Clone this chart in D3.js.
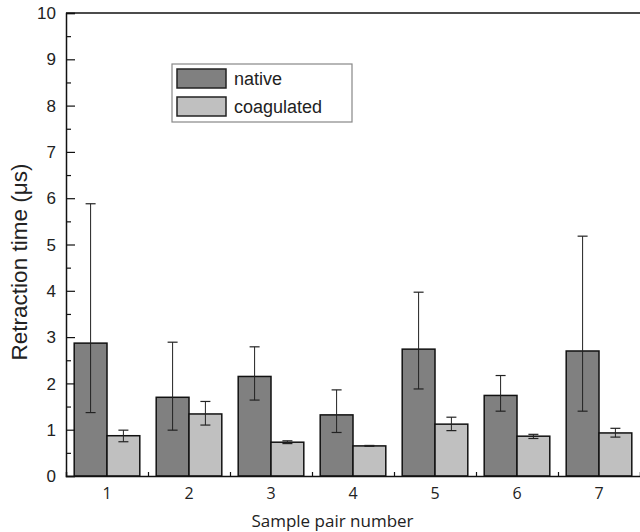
<!DOCTYPE html>
<html>
<head>
<meta charset="utf-8">
<script src="https://cdn.jsdelivr.net/npm/d3@7"></script>
<style>
  body { margin: 0; background: #fff; }
  svg { display: block; }
</style>
</head>
<body>
<div id="chart"></div>
<script>
// data
var pairs = [1, 2, 3, 4, 5, 6, 7];
var nativeMean = [2.87, 1.70, 2.15, 1.32, 2.74, 1.74, 2.70];
var nativeHi   = [5.88, 2.89, 2.79, 1.86, 3.97, 2.17, 5.18];
var nativeLo   = [1.37, 0.99, 1.64, 0.94, 1.88, 1.40, 1.40];
var coagMean   = [0.87, 1.34, 0.73, 0.65, 1.12, 0.86, 0.93];
var coagHi     = [0.99, 1.61, 0.76, 0.66, 1.27, 0.90, 1.03];
var coagLo     = [0.74, 1.10, 0.70, 0.64, 0.98, 0.81, 0.84];
var yTicks = [0, 1, 2, 3, 4, 5, 6, 7, 8, 9, 10];

var W = 640, H = 532;
var margin = { top: 13, right: 0, bottom: 56, left: 66 },
    width = W - margin.left - margin.right,
    height = H - margin.top - margin.bottom;

var svg = d3.select("#chart")
    .append("svg")
    .attr("width", W)
    .attr("height", H)
    .append("g")
    .attr("transform", "translate(" + margin.left + "," + margin.top + ")");

var x = d3.scaleLinear().domain([0.5, 7.5]).range([0, width]);
var y = d3.scaleLinear().domain([0, 10]).range([height, 0]);
var bw = 0.4; // bar width in category units

var series = [
    { name: "native", fill: "#808080", mean: nativeMean, hi: nativeHi, lo: nativeLo, off: -bw },
    { name: "coagulated", fill: "#c0c0c0", mean: coagMean, hi: coagHi, lo: coagLo, off: 0 }
];

// bars
series.forEach(function (s) {
    svg.append("g")
        .selectAll("rect")
        .data(pairs)
        .enter()
        .append("rect")
        .attr("x", (d, i) => x(d + s.off))
        .attr("y", (d, i) => y(s.mean[i]))
        .attr("width", x(1 + bw) - x(1))
        .attr("height", (d, i) => y(0) - y(s.mean[i]))
        .style("fill", s.fill)
        .style("stroke", "#111")
        .style("stroke-width", 1.5);

    // error bars
    var eb = svg.append("g").selectAll("g")
        .data(pairs)
        .enter()
        .append("g")
        .attr("transform", (d) => "translate(" + x(d + s.off + bw / 2) + ",0)");
    eb.append("line")
        .attr("y1", (d, i) => y(s.hi[i]))
        .attr("y2", (d, i) => y(s.lo[i]))
        .style("stroke", "#222").style("stroke-width", 1);
    eb.append("line")
        .attr("x1", -5).attr("x2", 5)
        .attr("y1", (d, i) => y(s.hi[i])).attr("y2", (d, i) => y(s.hi[i]))
        .style("stroke", "#222").style("stroke-width", 1.2);
    eb.append("line")
        .attr("x1", -5).attr("x2", 5)
        .attr("y1", (d, i) => y(s.lo[i])).attr("y2", (d, i) => y(s.lo[i]))
        .style("stroke", "#222").style("stroke-width", 1.2);
});

// y axis, ticks pointing inward
var yAxis = svg.append("g")
    .call(d3.axisRight(y).tickValues(yTicks).tickSize(9).tickFormat(""));
var yMinor = svg.append("g")
    .call(d3.axisRight(y).tickValues(d3.range(0.5, 10, 1)).tickSize(5).tickFormat(""));
yMinor.select(".domain").remove();
svg.append("g")
    .selectAll("text")
    .data(yTicks)
    .enter()
    .append("text")
    .attr("x", -10)
    .attr("y", d => y(d))
    .attr("dy", "0.36em")
    .attr("text-anchor", "end")
    .style("font-family", "Liberation Sans, Arial, sans-serif")
    .style("font-size", "17px")
    .style("fill", "#222")
    .text(d => d);

// x axis
var xAxis = svg.append("g")
    .attr("transform", "translate(0," + height + ")")
    .call(d3.axisTop(x).tickValues(d3.range(1.5, 7.5, 1)).tickSize(4).tickFormat(""));
svg.append("g")
    .selectAll("text")
    .data(pairs)
    .enter()
    .append("text")
    .attr("x", d => x(d))
    .attr("y", height + 23)
    .attr("text-anchor", "middle")
    .style("font-family", "Open Sans, sans-serif")
    .style("font-size", "16px")
    .style("fill", "#222")
    .text(d => d);

svg.selectAll(".domain").style("stroke", "#111").style("stroke-width", 1.5);
svg.selectAll(".tick line").style("stroke", "#111").style("stroke-width", 1.2);

// top frame line
svg.append("line")
    .attr("x1", 0).attr("x2", width)
    .attr("y1", 0).attr("y2", 0)
    .style("stroke", "#111").style("stroke-width", 1.5);

// axis titles
svg.append("text")
    .attr("x", x(3.75))
    .attr("y", height + 51)
    .attr("text-anchor", "middle")
    .style("font-family", "Open Sans, sans-serif")
    .style("font-size", "17px")
    .style("fill", "#222")
    .text("Sample pair number");

svg.append("text")
    .attr("transform", "translate(" + (-39) + "," + 249 + ") rotate(-90)")
    .attr("text-anchor", "middle")
    .attr("textLength", 197)
    .attr("lengthAdjust", "spacingAndGlyphs")
    .style("font-family", "Liberation Sans, Arial, sans-serif")
    .style("font-size", "22px")
    .style("fill", "#222")
    .text("Retraction time (\u03bcs)");

// legend
var lg = svg.append("g").attr("transform", "translate(" + (172 - margin.left) + "," + (64 - margin.top) + ")");
lg.append("rect")
    .attr("width", 180).attr("height", 58)
    .style("fill", "#fff").style("stroke", "#888").style("stroke-width", 1.2);
series.forEach(function (s, i) {
    lg.append("rect")
        .attr("x", 5).attr("y", 5 + i * 28)
        .attr("width", 49).attr("height", 19)
        .style("fill", s.fill).style("stroke", "#222").style("stroke-width", 1.5);
    lg.append("text")
        .attr("x", 62).attr("y", 15 + i * 28)
        .attr("dy", "0.36em")
        .style("font-family", "Liberation Sans, Arial, sans-serif")
        .style("font-size", "18px")
        .style("fill", "#222")
        .text(s.name);
});
</script>
</body>
</html>
